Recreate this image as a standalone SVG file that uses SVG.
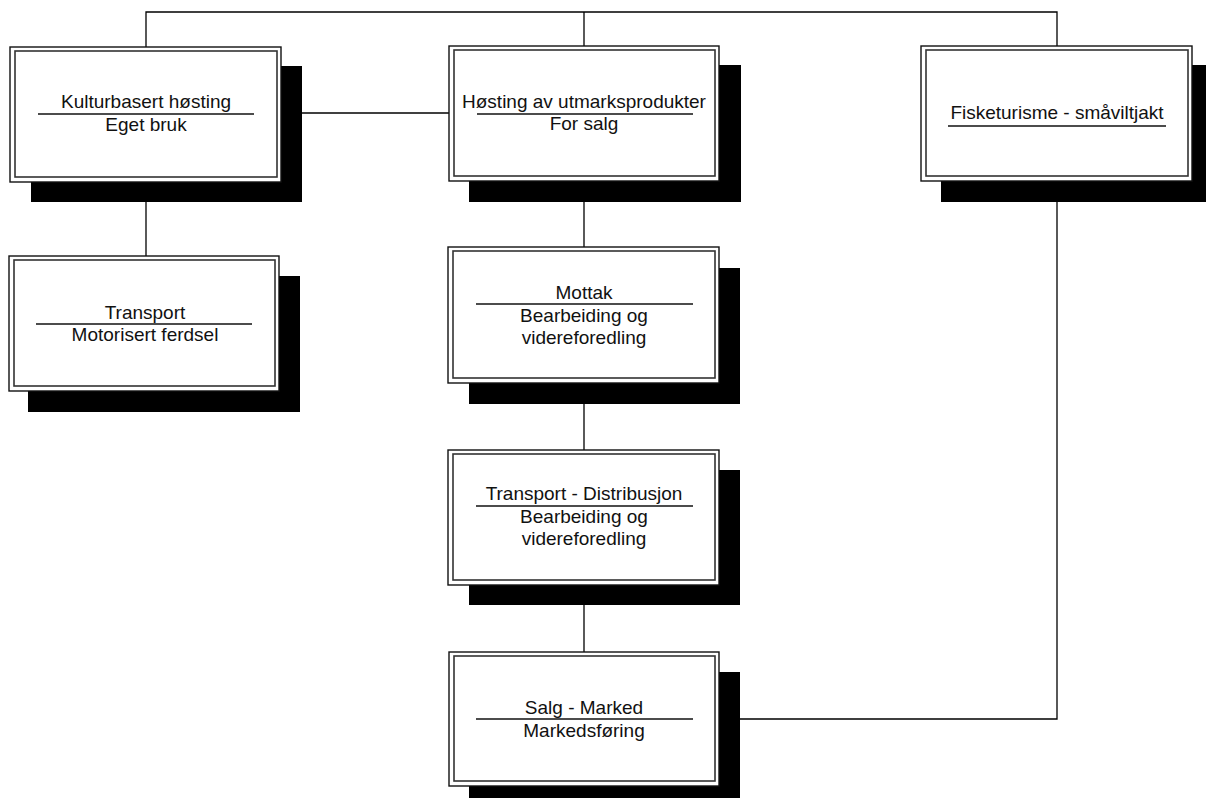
<svg xmlns="http://www.w3.org/2000/svg" width="1206" height="798" viewBox="0 0 1206 798">
<style>
.bg{fill:#ffffff}
.conn{stroke:#000;stroke-width:1.3;fill:none}
.shadow{fill:#000}
.outer{fill:#fff;stroke:#111;stroke-width:1.4}
.inner{fill:none;stroke:#333;stroke-width:1.6}
.div{stroke:#111;stroke-width:1.3}
text{font-family:"Liberation Sans",Arial,sans-serif;font-size:19px;fill:#111;text-anchor:middle}
</style>
<rect class="bg" x="0" y="0" width="1206" height="798"/>
<g id="connectors">
<polyline class="conn" points="146,47 146,12 1057,12 1057,46"/>
<line class="conn" x1="584" y1="12" x2="584" y2="46"/>
<line class="conn" x1="146" y1="182" x2="146" y2="256"/>
<line class="conn" x1="281" y1="113" x2="449" y2="113"/>
<line class="conn" x1="584" y1="181" x2="584" y2="247"/>
<line class="conn" x1="584" y1="383" x2="584" y2="450"/>
<line class="conn" x1="584" y1="585" x2="584" y2="652"/>
<polyline class="conn" points="1057,181 1057,719 719,719"/>
</g>
<g id="kulturbasert">
<rect class="shadow" x="31" y="66" width="271" height="136"/>
<rect class="outer" x="10" y="47" width="271" height="135"/>
<rect class="inner" x="15" y="51" width="262" height="126"/>
<text x="146" y="108">Kulturbasert høsting</text>
<line class="div" x1="38" y1="114" x2="254" y2="114"/>
<text x="146" y="131">Eget bruk</text>
</g>
<g id="hosting">
<rect class="shadow" x="469" y="65" width="272" height="137"/>
<rect class="outer" x="449" y="46" width="270" height="135"/>
<rect class="inner" x="454" y="50" width="261" height="126"/>
<text x="584" y="108">Høsting av utmarksprodukter</text>
<line class="div" x1="477" y1="114" x2="693" y2="114"/>
<text x="584" y="130">For salg</text>
</g>
<g id="fisketurisme">
<rect class="shadow" x="941" y="65" width="272" height="137"/>
<rect class="outer" x="921" y="46" width="271" height="135"/>
<rect class="inner" x="926" y="50" width="262" height="126"/>
<text x="1057" y="119">Fisketurisme - småviltjakt</text>
<line class="div" x1="948" y1="126" x2="1166" y2="126"/>
</g>
<g id="transport">
<rect class="shadow" x="28" y="276" width="272" height="136"/>
<rect class="outer" x="9" y="256" width="270" height="135"/>
<rect class="inner" x="14" y="260" width="261" height="126"/>
<text x="145" y="319">Transport</text>
<line class="div" x1="36" y1="324" x2="252" y2="324"/>
<text x="145" y="341">Motorisert ferdsel</text>
</g>
<g id="mottak">
<rect class="shadow" x="469" y="268" width="271" height="136"/>
<rect class="outer" x="448" y="247" width="271" height="136"/>
<rect class="inner" x="453" y="251" width="262" height="127"/>
<text x="584" y="299">Mottak</text>
<line class="div" x1="476" y1="304" x2="693" y2="304"/>
<text x="584" y="322">Bearbeiding og</text>
<text x="584" y="344">videreforedling</text>
</g>
<g id="distribusjon">
<rect class="shadow" x="469" y="470" width="271" height="135"/>
<rect class="outer" x="448" y="450" width="271" height="135"/>
<rect class="inner" x="453" y="454" width="262" height="126"/>
<text x="584" y="500">Transport - Distribusjon</text>
<line class="div" x1="476" y1="506" x2="693" y2="506"/>
<text x="584" y="523">Bearbeiding og</text>
<text x="584" y="545">videreforedling</text>
</g>
<g id="salg">
<rect class="shadow" x="469" y="672" width="271" height="136"/>
<rect class="outer" x="449" y="652" width="270" height="134"/>
<rect class="inner" x="454" y="656" width="261" height="125"/>
<text x="584" y="714">Salg - Marked</text>
<line class="div" x1="476" y1="719" x2="693" y2="719"/>
<text x="584" y="737">Markedsføring</text>
</g>
</svg>
